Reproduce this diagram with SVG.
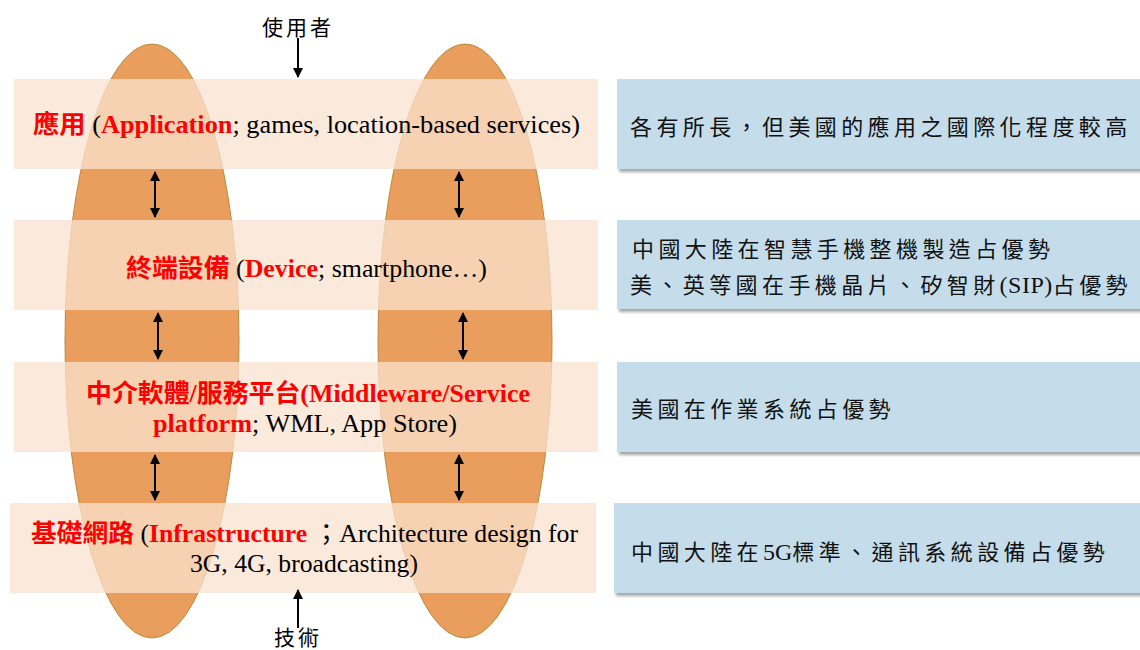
<svg xmlns="http://www.w3.org/2000/svg" width="1140" height="650" viewBox="0 0 1140 650">
<style>
.ell{fill:#EA9E5E;stroke:#B98A3A;stroke-width:1}
.band{fill:#FAE3D0;fill-opacity:0.75}
.box{fill:#C5DDEB}
.lt{font-family:"Liberation Serif","Noto Sans CJK TC",serif;font-size:25px;fill:#000}
.red{fill:#FF0000;font-weight:bold}
.rt{font-family:"Liberation Serif","Noto Sans CJK TC",serif;font-size:22px;fill:#111}
.cj{letter-spacing:4.4px}
.cap{font-family:"Noto Sans CJK TC",sans-serif;font-size:21px;fill:#000}
.ar{stroke:#000;stroke-width:2;fill:none}
</style>
<defs>
<marker id="ah" viewBox="0 0 10 10" refX="9" refY="5" markerWidth="5" markerHeight="5" orient="auto-start-reverse" markerUnits="strokeWidth">
<path d="M0,0 L10,5 L0,10 z" fill="#000"/>
</marker>
<filter id="sh" x="-5%" y="-10%" width="115%" height="130%">
<feDropShadow dx="2" dy="3" stdDeviation="1.5" flood-color="#000" flood-opacity="0.35"/>
</filter>
</defs>
<rect width="1140" height="650" fill="#fff"/>

<g id="ellipse-left"><ellipse class="ell" cx="152" cy="341" rx="87" ry="297"/></g>
<g id="ellipse-right"><ellipse class="ell" cx="465" cy="341" rx="87" ry="297"/></g>

<g id="layer-application">
<rect class="band" x="14" y="79" width="584" height="90"/>
<text class="lt" x="33" y="133" textLength="547" lengthAdjust="spacingAndGlyphs"><tspan class="red">應用</tspan> (<tspan class="red">Application</tspan>; games, location-based services)</text>
</g>
<g id="layer-device">
<rect class="band" x="14" y="220" width="584" height="90"/>
<text class="lt" x="126" y="277" textLength="361" lengthAdjust="spacingAndGlyphs"><tspan class="red">終端設備</tspan> (<tspan class="red">Device</tspan>; smartphone…)</text>
</g>
<g id="layer-middleware">
<rect class="band" x="14" y="362" width="584" height="90"/>
<text class="lt" x="86" y="402" textLength="444" lengthAdjust="spacingAndGlyphs"><tspan class="red">中介軟體/服務平台(Middleware/Service</tspan></text>
<text class="lt" x="153" y="432" textLength="304" lengthAdjust="spacingAndGlyphs"><tspan class="red">platform</tspan>; WML, App Store)</text>
</g>
<g id="layer-infrastructure">
<rect class="band" x="10" y="503" width="586" height="90"/>
<text class="lt" x="31" y="542" textLength="547" lengthAdjust="spacingAndGlyphs"><tspan class="red">基礎網路</tspan> (<tspan class="red">Infrastructure</tspan> ；Architecture design for</text>
<text class="lt" x="190" y="572" textLength="228" lengthAdjust="spacingAndGlyphs">3G, 4G, broadcasting)</text>
</g>

<g id="label-user"><text class="cap" x="298" y="35" text-anchor="middle" letter-spacing="3">使用者</text></g>
<g id="label-tech"><text class="cap" x="298" y="645" text-anchor="middle" letter-spacing="3">技術</text></g>

<g id="note-application">
<rect class="box" filter="url(#sh)" x="617" y="79" width="530" height="90"/>
<text class="rt cj" x="630" y="135">各有所長，但美國的應用之國際化程度較高</text>
</g>
<g id="note-device">
<rect class="box" filter="url(#sh)" x="617" y="220" width="530" height="89"/>
<text class="rt cj" x="632" y="257">中國大陸在智慧手機整機製造占優勢</text>
<text class="rt" x="630" y="293"><tspan class="cj">美、英等國在手機晶片、矽智財</tspan><tspan font-size="24" letter-spacing="0.5">(SIP)</tspan><tspan class="cj">占優勢</tspan></text>
</g>
<g id="note-middleware">
<rect class="box" filter="url(#sh)" x="617" y="362" width="530" height="90"/>
<text class="rt cj" x="631" y="417">美國在作業系統占優勢</text>
</g>
<g id="note-infrastructure">
<rect class="box" filter="url(#sh)" x="614" y="503" width="533" height="90"/>
<text class="rt" x="631" y="560"><tspan class="cj">中國大陸在</tspan><tspan font-size="24">5G</tspan><tspan class="cj">標準、通訊系統設備占優勢</tspan></text>
</g>

<g id="connectors">
<line class="ar" x1="298" y1="38" x2="298" y2="77" marker-end="url(#ah)"/>
<line class="ar" x1="298" y1="628" x2="298" y2="590" marker-end="url(#ah)"/>
<line class="ar" x1="155" y1="172" x2="155" y2="217" marker-start="url(#ah)" marker-end="url(#ah)"/>
<line class="ar" x1="459" y1="172" x2="459" y2="217" marker-start="url(#ah)" marker-end="url(#ah)"/>
<line class="ar" x1="158" y1="313" x2="158" y2="359" marker-start="url(#ah)" marker-end="url(#ah)"/>
<line class="ar" x1="463" y1="313" x2="463" y2="359" marker-start="url(#ah)" marker-end="url(#ah)"/>
<line class="ar" x1="155" y1="455" x2="155" y2="500" marker-start="url(#ah)" marker-end="url(#ah)"/>
<line class="ar" x1="459" y1="455" x2="459" y2="500" marker-start="url(#ah)" marker-end="url(#ah)"/>
</g>
</svg>
